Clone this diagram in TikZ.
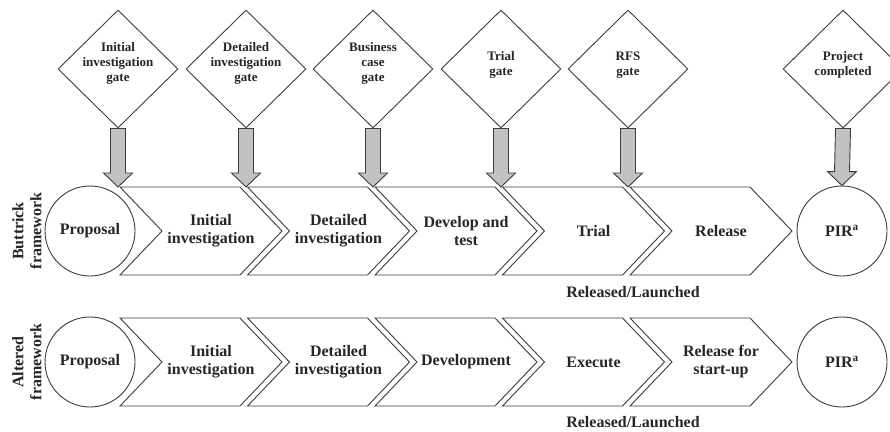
\documentclass[tikz,border=0pt]{standalone}
\usepackage{fontspec}
\setmainfont{Liberation Serif}
\usetikzlibrary{shapes.geometric,calc}
\definecolor{ln}{HTML}{3C3C3C}
\definecolor{ag}{HTML}{C2C2C2}
\tikzset{
  shp/.style={draw=ln, line width=0.9pt, fill=white, line join=miter},
  gate/.style={shp, diamond, minimum width=120pt, minimum height=118pt, inner sep=0pt, aspect=1},
  gatetxt/.style={font=\bfseries\fontsize{13}{15}\selectfont, align=center, inner sep=0pt, text=black!85},
  lab/.style={font=\bfseries\fontsize{16}{18}\selectfont, align=center, inner sep=0pt, text=black!85},
  endc/.style={shp, circle, minimum size=90pt, inner sep=0pt, font=\bfseries\fontsize{16}{18}\selectfont, text=black!85},
  blockarr/.style={draw=ln, line width=0.9pt, fill=ag, line join=miter},
}
\newcommand\chevshape[2]{%
  \draw[shp] (#1,#2) -- ++(120,0) -- ++(42,44) -- ++(-42,44) -- ++(-120,0) -- ++(42,-44) -- cycle;}
\newcommand\gatearrow[2]{%
  \draw[blockarr] ($(#1.south)+(-7.5,0)$) -- ($(#2)+(-7.5,-14)$) -- ($(#2)+(-14.5,-14)$) -- (#2)
    -- ($(#2)+(14.5,-14)$) -- ($(#2)+(7.5,-14)$) -- ($(#1.south)+(7.5,0)$) -- cycle;}
\begin{document}
\begin{tikzpicture}[x=1pt,y=-1pt]
\useasboundingbox (0,0) rectangle (890,431);
\clip (0,0) rectangle (890,431);

% side labels
\node[lab, rotate=90] (sideA) at (27,231) {Buttrick\\framework};
\node[lab, rotate=90] (sideB) at (27,362) {Altered\\framework};

% row 1 chevrons
\chevshape{120}{187}
\chevshape{247.5}{187}
\chevshape{375}{187}
\chevshape{502.5}{187}
\chevshape{630}{187}
% row 2 chevrons
\chevshape{120}{318}
\chevshape{247.5}{318}
\chevshape{375}{318}
\chevshape{502.5}{318}
\chevshape{630}{318}

% circles
\node[endc] (propA) at (90,231) {Proposal};
\node[endc] (pirA) at (842,231) {PIR\textsuperscript{a}};
\node[endc] (propB) at (90,362) {Proposal};
\node[endc] (pirB) at (842,362) {PIR\textsuperscript{a}};

% row 1 labels
\node[lab] (a1) at (211,231) {Initial\\investigation};
\node[lab] (a2) at (338.5,231) {Detailed\\investigation};
\node[lab] (a3) at (466,231) {Develop and\\test};
\node[lab] (a4) at (593.5,231) {Trial};
\node[lab] (a5) at (721,231) {Release};
\node[lab] (relA) at (633,292) {Released/Launched};

% row 2 labels
\node[lab] (b1) at (211,362) {Initial\\investigation};
\node[lab] (b2) at (338.5,362) {Detailed\\investigation};
\node[lab] (b3) at (466,362) {Development};
\node[lab] (b4) at (593.5,362) {Execute};
\node[lab] (b5) at (721,362) {Release for\\start-up};
\node[lab] (relB) at (633,422) {Released/Launched};

% gates
\node[gate] (g1) at (118,69) {};
\node[gate] (g2) at (246,69) {};
\node[gate] (g3) at (373,69) {};
\node[gate] (g4) at (501,69) {};
\node[gate] (g5) at (628,69) {};
\node[gate] (g6) at (843,69) {};
\node[gatetxt] (t1) at (118,63) {Initial\\investigation\\gate};
\node[gatetxt] (t2) at (246,63) {Detailed\\investigation\\gate};
\node[gatetxt] (t3) at (373,63) {Business\\case\\gate};
\node[gatetxt] (t4) at (501,65) {Trial\\gate};
\node[gatetxt] (t5) at (628,65) {RFS\\gate};
\node[gatetxt] (t6) at (843,65) {Project\\completed};

% arrow tips
\coordinate (p1) at (118,187);
\coordinate (p2) at (246,187);
\coordinate (p3) at (373,187);
\coordinate (p4) at (501,187);
\coordinate (p5) at (628,187);
\coordinate (p6) at (pirA.north);

\gatearrow{g1}{p1}
\gatearrow{g2}{p2}
\gatearrow{g3}{p3}
\gatearrow{g4}{p4}
\gatearrow{g5}{p5}
\gatearrow{g6}{p6}
\end{tikzpicture}
\end{document}
